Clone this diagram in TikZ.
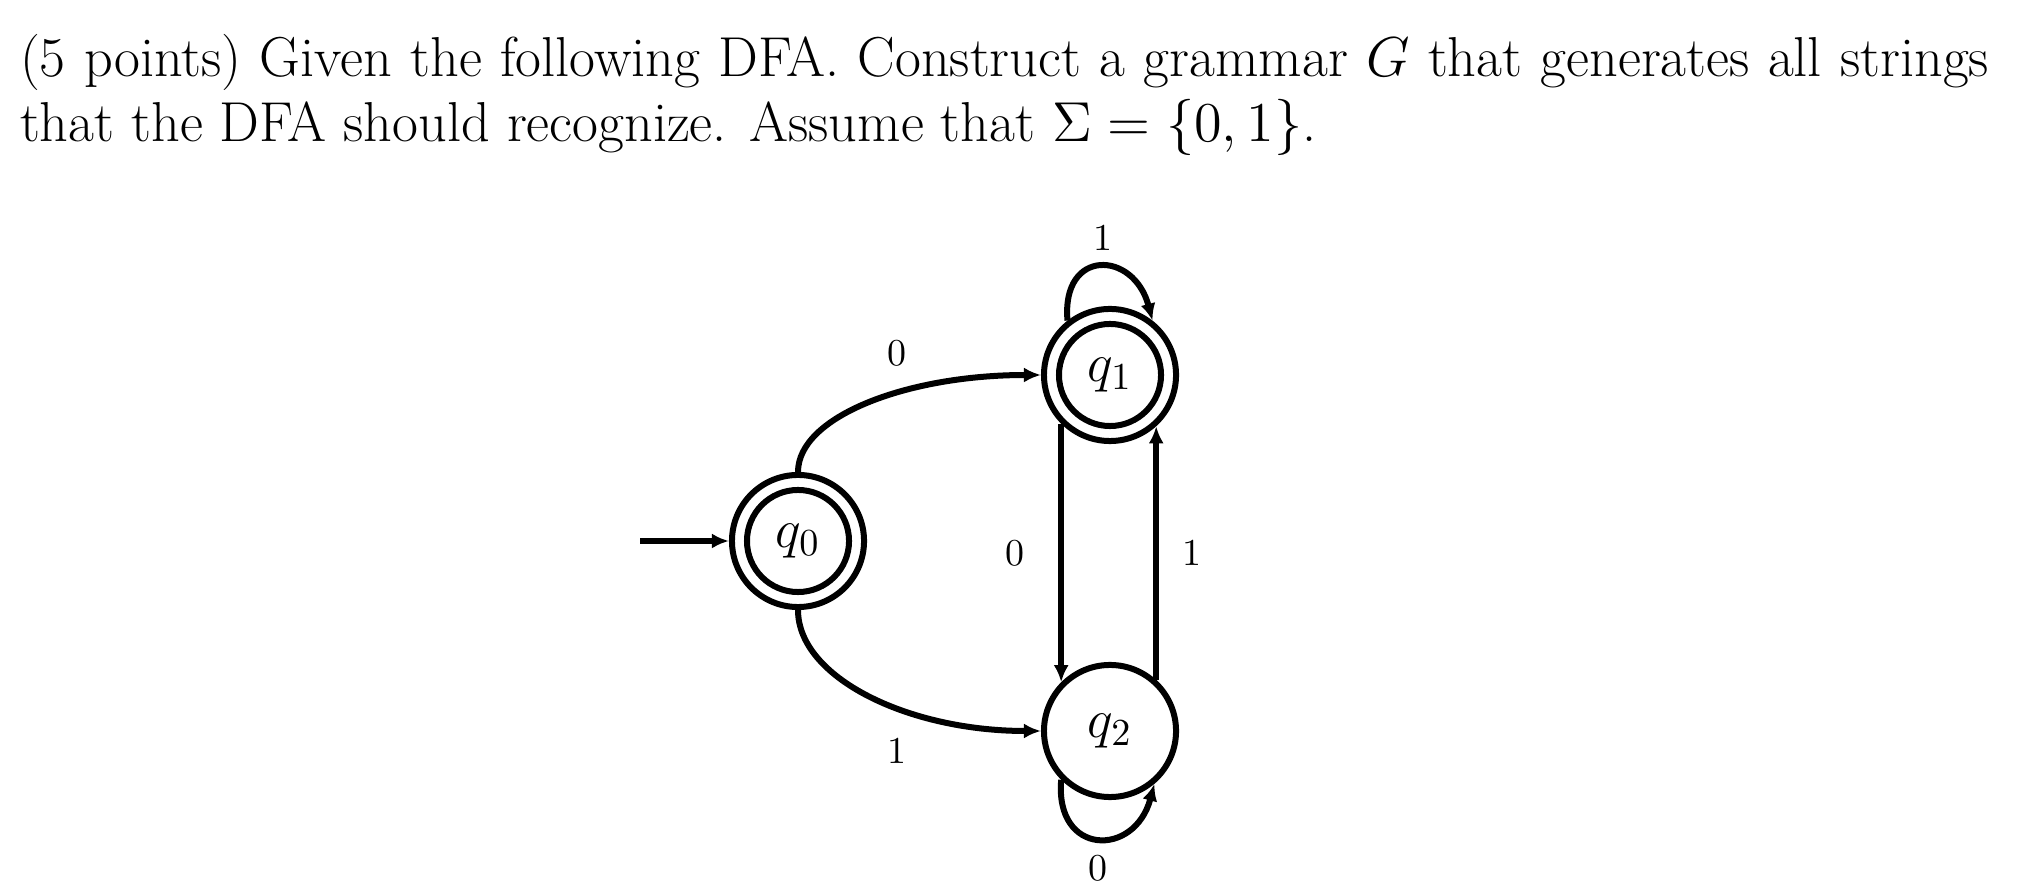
\RequirePackage{fix-cm}
\documentclass[tikz,border=0pt]{standalone}
\usepackage{amsmath}
\usepackage{amssymb}
\usetikzlibrary{arrows.meta,positioning,calc}

\begin{document}
\begin{tikzpicture}[x=0.01cm,y=0.01cm,>={Latex[length=0.17cm,width=0.15cm]},
   line width=0.06cm,
   st/.style={circle,draw,minimum size=1.32cm,inner sep=0pt,font=\fontsize{15.5pt}{18pt}\selectfont},
   acc/.style={path picture={\draw (path picture bounding box.center) circle (0.51cm);}},
   lb/.style={font=\fontsize{10.8pt}{13pt}\selectfont,inner sep=1pt},
   txt/.style={anchor=base west,inner sep=0pt,font=\fontsize{16pt}{19pt}\selectfont}]
  \useasboundingbox (0,0) rectangle (2037,-895);
  \node[txt] (ln1) at (17,-77)
    {\makebox[19.68cm][s]{(5 points) Given the following DFA. Construct a grammar $G$ that generates all strings}};
  \node[txt] (ln2) at (17,-142) {that the DFA should recognize. Assume that $\Sigma=\{0,1\}$.};
  \node[st,acc] (q0) at (798,-541) {$q_0$};
  \node[st,acc] (q1) at (1110,-375) {$q_1$};
  \node[st] (q2) at (1110,-731) {$q_2$};
  \coordinate (s) at (640,-541);
  \draw[->] (s)--(q0);
  \draw[->] (q0.north) .. controls +(0,55) and +(-135,0) .. node[lb,midway,above=0.3cm,xshift=0.28cm]{0} (q1.west);
  \draw[->] (q0.south) .. controls +(0,-67) and +(-134,0) .. node[lb,midway,below=0.36cm,xshift=0.28cm]{1} (q2.west);
  \draw[->] (q1.225)--(q2.135) node[lb,midway,left=0.3cm]{0};
  \draw[->] (q2.48)--(q1.312) node[lb,midway,right=0.2cm]{1};
  \draw[->] (q1.128) to[out=95,in=105,looseness=2.2] node[lb,pos=0.52,above=0.1cm]{1} (q1.52);
  \draw[->] (q2.225) to[out=265,in=255,looseness=2.1] node[lb,pos=0.5,below=0.1cm]{0} (q2.310);
\end{tikzpicture}
\end{document}
